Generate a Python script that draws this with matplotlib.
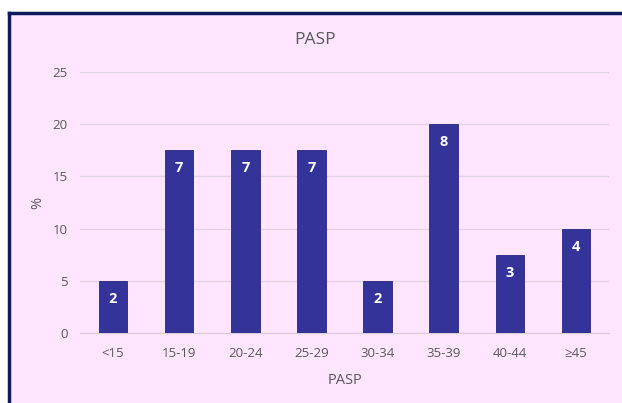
import matplotlib
matplotlib.use("Agg")
import matplotlib.pyplot as plt
from matplotlib.lines import Line2D
from matplotlib.patches import Rectangle

# PASP distribution: share (%) and count per age band
categories = ["<15", "15-19", "20-24", "25-29", "30-34", "35-39", "40-44", "≥45"]
percent = [5, 17.5, 17.5, 17.5, 5, 20, 7.5, 10]
counts = [2, 7, 7, 7, 2, 8, 3, 4]

pink = "#ffe5ff"
navy = "#333399"
border = "#0d1a5e"
grey = "#595959"

plt.rcParams['font.family'] = ['Open Sans', 'DejaVu Sans']

fig = plt.figure(figsize=(6.22, 4.03), dpi=100)
fig.patch.set_facecolor("white")

# pink chart area with a dark border on top and left
x0, y1 = 8.5 / 622, 1 - 12.5 / 403
fig.patches.append(Rectangle((x0, 0), 1 - x0, y1, transform=fig.transFigure,
                             facecolor=pink, edgecolor="none", zorder=-2))
fig.lines.append(Line2D([x0, 1], [y1, y1], transform=fig.transFigure, color=border, lw=2.5, zorder=-1))
fig.lines.append(Line2D([x0, x0], [0, y1], transform=fig.transFigure, color=border, lw=2.5, zorder=-1))

ax = fig.add_axes([80 / 622, 1 - 333 / 403, 529 / 622, 261 / 403])
ax.patch.set_alpha(0)

xs = range(len(categories))
bars = ax.bar(xs, percent, width=0.43, color=navy, edgecolor="#262680", lw=0.6, zorder=3)

for b, n in zip(bars, counts):
    ax.annotate(str(n), (b.get_x() + b.get_width() / 2, b.get_height()),
                xytext=(0, -18), textcoords="offset pixels", ha="center", va="center",
                color="white", fontsize=10.5, fontweight="bold", zorder=4)

ax.set_xlim(-0.5, len(categories) - 0.5)
ax.set_ylim(0, 25)
ax.set_yticks([0, 5, 10, 15, 20, 25])
ax.set_xticks(list(xs))
ax.set_xticklabels(categories)
ax.grid(axis="y", color="#e3d3e3", lw=1, zorder=0)
for s in ["top", "right", "left"]:
    ax.spines[s].set_visible(False)
ax.spines["bottom"].set_color("#d9cad9")
ax.tick_params(length=0, colors=grey, labelsize=9.5)
ax.tick_params(axis="y", pad=9)
ax.tick_params(axis="x", pad=10)

fig.text(315 / 622, 1 - 40 / 403, "PASP", color=grey, fontsize=12.5, ha="center", va="center")
ax.set_xlabel("PASP", color=grey, fontsize=10.5, va="center")
ax.xaxis.set_label_coords(0.5, (333 - 380) / -261 * -1)
ax.set_ylabel("%", color=grey, fontsize=10.5, va="center")
ax.yaxis.set_label_coords((38 - 80) / 529, 0.5)

fig.savefig("out.png", dpi=100, facecolor=fig.get_facecolor())
